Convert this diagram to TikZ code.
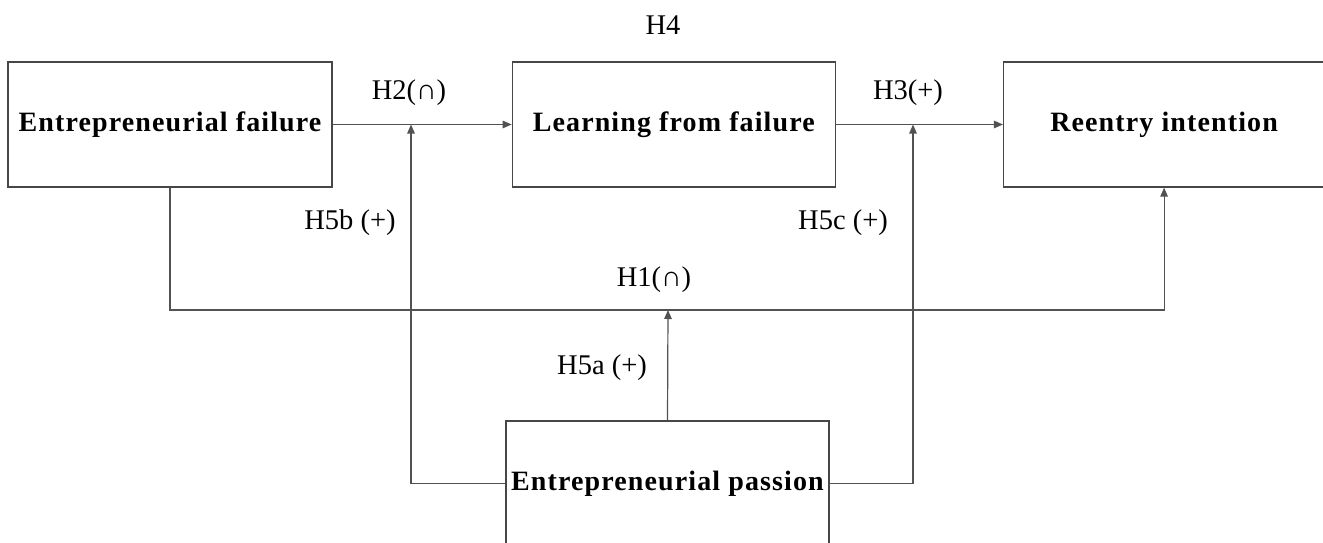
\documentclass[tikz,border=0pt]{standalone}
\usepackage{fontspec}
\setmainfont{Liberation Serif}
\usetikzlibrary{arrows.meta, positioning, calc}

\begin{document}
\begin{tikzpicture}[
  x=1pt, y=-1pt,
  node distance=179pt,
  box/.style={rectangle, draw=black!72, line width=1.3pt, minimum width=323pt, minimum height=125pt, inner sep=0pt, align=center, font=\bfseries\fontsize{28}{34}\selectfont\addfontfeatures{LetterSpace=4}},
  lbl/.style={inner sep=0pt, font=\fontsize{28.5}{34}\selectfont},
  arrow/.style={line width=1.2pt, black!68, -{Triangle[length=9pt, width=7.5pt]}}
]
\useasboundingbox (0,0) rectangle (1323,543);

% Nodes (top row and moderator)
\node[box, minimum width=324pt] (fail) at (170,124.5) {Entrepreneurial failure};
\node[box, right=179pt of fail] (learn) {Learning from failure};
\node[box, minimum width=321pt, right=167pt of learn] (reentry) {Reentry intention};
\node[box] (passion) at (667.5,483.5) {Entrepreneurial passion};

% Meeting points of the moderating arrows
\coordinate (m2) at (411,124.5);
\coordinate (m3) at (913,124.5);
\coordinate (m1) at (668,310);

% Arrows
\draw[arrow] (fail) -- (learn);
\draw[arrow] (learn) -- (reentry);
\draw[arrow] (fail.south) -- (fail.south |- m1) -| (reentry.south);
\draw[arrow] (passion.west) -| (m2);
\draw[arrow] (passion.east) -| (m3);
\draw[arrow] (passion.north) -- (m1);

% Hypothesis labels
\node[lbl] (h4) at (663,25) {H4};
\node[lbl] (h2) at (409,93) {H2(∩)};
\node[lbl] (h3) at (908,93) {H3(+)};
\node[lbl] (h5b) at (350,223) {H5b (+)};
\node[lbl] (h5c) at (843,223) {H5c (+)};
\node[lbl] (h1) at (654,280) {H1(∩)};
\node[lbl] (h5a) at (602,368) {H5a (+)};

\end{tikzpicture}
\end{document}
